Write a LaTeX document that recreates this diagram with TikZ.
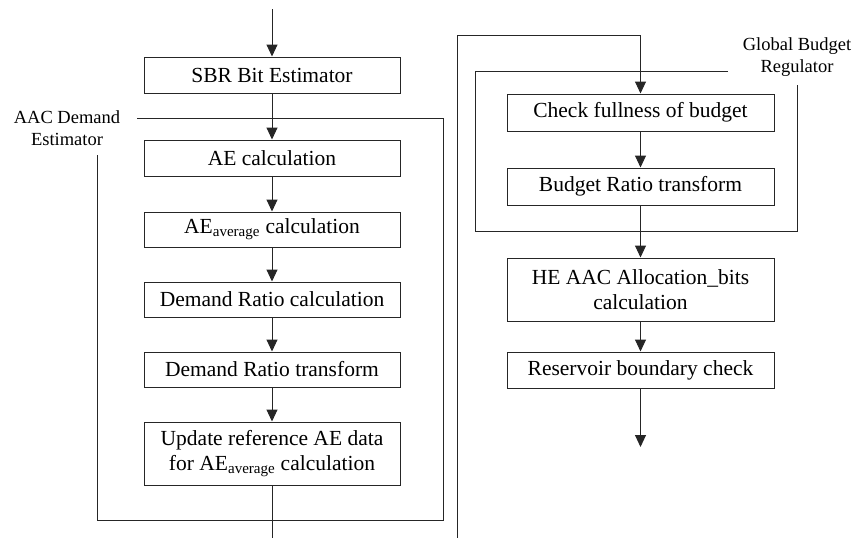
\documentclass[tikz,border=0pt]{standalone}
\usepackage{fontspec}
\setmainfont{Liberation Serif}
\usetikzlibrary{arrows.meta,positioning}

\tikzset{
	blok/.style={draw=black!85, line width=1pt, inner sep=0pt, align=center,
		font=\fontsize{21.5}{25}\selectfont},
	lblok/.style={blok, minimum width=256pt, minimum height=36pt},
	rblok/.style={blok, minimum width=267pt, minimum height=37pt},
	grp/.style={draw=black!85, line width=1pt},
	grplabel/.style={align=center, inner sep=0pt, font=\fontsize{18.5}{22}\selectfont},
	pfeil/.style={draw=black!85, line width=1pt, -{Triangle[length=12pt,width=11pt]}}
}

\begin{document}
\begin{tikzpicture}[x=1pt,y=-1pt]
		\useasboundingbox (0,0) rectangle (863,538);

		% linke Spalte
		\node[lblok] (sbr) at (272,75) {SBR Bit Estimator};
		\node[lblok] (ae) at (272,158) {AE calculation};
		\node[lblok, minimum height=35pt] (aeavg) at (272,229.5) {AE\textsubscript{average} calculation};
		\node[lblok, minimum height=35pt] (dratio) at (272,299.5) {Demand Ratio calculation};
		\node[lblok, minimum height=35pt] (dtrans) at (272,369.5) {Demand Ratio transform};
		\node[lblok, minimum height=63pt] (update) at (272,453.5) {Update reference AE data\\for AE\textsubscript{average} calculation};

		% rechte Spalte
		\node[rblok] (check) at (640.5,112.5) {Check fullness of budget};
		\node[rblok] (bratio) at (640.5,186.5) {Budget Ratio transform};
		\node[rblok, minimum height=63pt] (alloc) at (640.5,289.5) {HE AAC Allocation\_bits\\calculation};
		\node[rblok, minimum height=36pt] (resv) at (640.5,370) {Reservoir boundary check};

		% Gruppen
		\node[grplabel] (aaclabel) at (67,128) {AAC Demand\\Estimator};
		\node[grplabel] (gbrlabel) at (797,57) {Global Budget\\Regulator};
		\draw[grp] (137,118) -- (443,118) -- (443,520) -- (97,520) -- (97,155);
		\draw[grp] (728,71) -- (475,71) -- (475,231) -- (797,231) -- (797,85);

		% Verbindungen
		\coordinate (ein) at (272,9);
		\coordinate (aus) at (272,538);
		\coordinate (rueck) at (457,538);
		\coordinate (ende) at (640.5,447);
		\draw[pfeil] (ein) -- (sbr);
		\draw[pfeil] (sbr) -- (ae);
		\draw[pfeil] (ae) -- (aeavg);
		\draw[pfeil] (aeavg) -- (dratio);
		\draw[pfeil] (dratio) -- (dtrans);
		\draw[pfeil] (dtrans) -- (update);
		\draw[grp] (update) -- (aus);
		\draw[pfeil] (rueck) |- (640.5,35) -- (check);
		\draw[pfeil] (check) -- (bratio);
		\draw[pfeil] (bratio) -- (alloc);
		\draw[pfeil] (alloc) -- (resv);
		\draw[pfeil] (resv) -- (ende);

		%\node[grplabel] at (67,128) {\textbf{AAC Demand}\\Estimator};
	\end{tikzpicture}
\end{document}
